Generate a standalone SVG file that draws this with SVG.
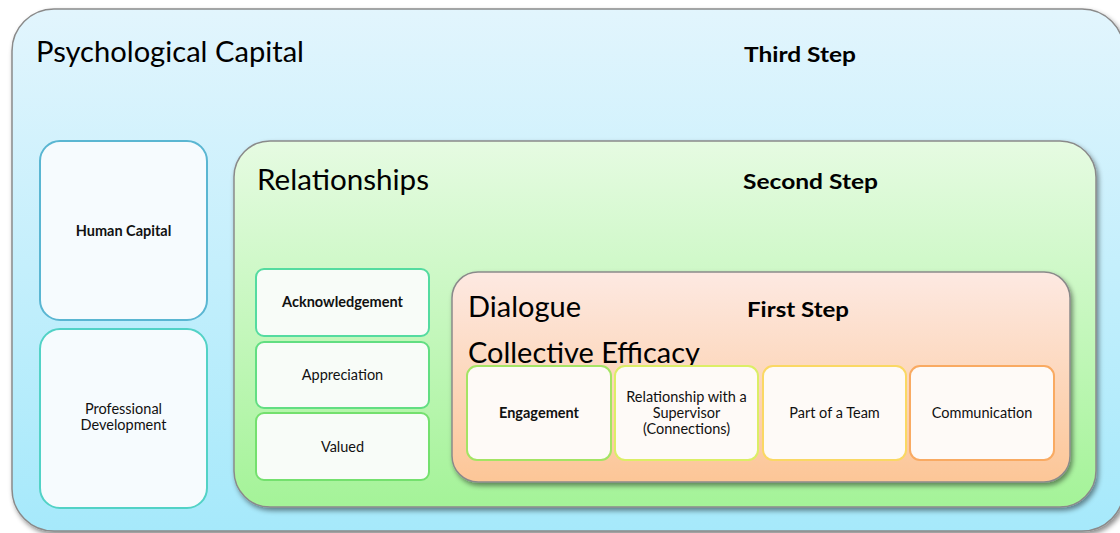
<svg xmlns="http://www.w3.org/2000/svg" width="1120" height="533" viewBox="0 0 1120 533">
<defs>
<linearGradient id="gBlue" x1="0" y1="0" x2="0" y2="1"><stop offset="0" stop-color="#e2f5fd"/><stop offset="1" stop-color="#a6e9fb"/></linearGradient>
<linearGradient id="gGreen" x1="0" y1="0" x2="0" y2="1"><stop offset="0" stop-color="#e6fbe2"/><stop offset="1" stop-color="#a4f398"/></linearGradient>
<linearGradient id="gOrange" x1="0" y1="0" x2="0" y2="1"><stop offset="0" stop-color="#fde9e2"/><stop offset="1" stop-color="#fcc697"/></linearGradient>
<filter id="sh" x="-5%" y="-5%" width="110%" height="115%"><feDropShadow dx="2" dy="3" stdDeviation="2.5" flood-color="#000" flood-opacity="0.45"/></filter>
<style>
.big{font-family:Lato,"Liberation Sans",sans-serif;font-size:28px;fill:#000}
.step{font-family:Lato,"Liberation Sans",sans-serif;font-size:21px;font-weight:bold;fill:#000}
.sm{font-family:Lato,"Liberation Sans",sans-serif;font-size:14.5px;fill:#111;text-anchor:middle}
.b{font-weight:bold}
.card{stroke-width:2}
</style>
</defs>
<g id="psychological-capital">
<rect x="12" y="9" width="1112" height="522" rx="42" fill="url(#gBlue)" stroke="#8a8a8a" stroke-width="1.5" filter="url(#sh)"/>
<text class="big" x="36" y="62" textLength="268" lengthAdjust="spacingAndGlyphs">Psychological Capital</text>
<text class="step" x="744" y="62" textLength="112" lengthAdjust="spacingAndGlyphs">Third Step</text>
</g>
<g id="human-capital">
<rect class="card" x="40" y="141" width="167" height="179" rx="20" fill="#f6fbfe" stroke="#5ab6d2"/>
<text class="sm b" x="123.5" y="236">Human Capital</text>
</g>
<g id="professional-development">
<rect class="card" x="40" y="329" width="167" height="179" rx="20" fill="#f6fbfe" stroke="#52d2c6"/>
<text class="sm" x="123.5" y="414">Professional</text>
<text class="sm" x="123.5" y="430">Development</text>
</g>
<g id="relationships">
<rect x="234" y="141" width="862" height="366" rx="36" fill="url(#gGreen)" stroke="#8a8a8a" stroke-width="1.5" filter="url(#sh)"/>
<text class="big" x="257" y="190" textLength="172" lengthAdjust="spacingAndGlyphs">Relationships</text>
<text class="step" x="743" y="189" textLength="135" lengthAdjust="spacingAndGlyphs">Second Step</text>
</g>
<g id="acknowledgement">
<rect class="card" x="256" y="269" width="173" height="67" rx="8" fill="#f8fcf8" stroke="#54dba0"/>
<text class="sm b" x="342.5" y="307">Acknowledgement</text>
</g>
<g id="appreciation">
<rect class="card" x="256" y="342" width="173" height="66" rx="8" fill="#f8fcf8" stroke="#62de82"/>
<text class="sm" x="342.5" y="380">Appreciation</text>
</g>
<g id="valued">
<rect class="card" x="256" y="413" width="173" height="67" rx="8" fill="#f8fcf8" stroke="#74e06e"/>
<text class="sm" x="342.5" y="452">Valued</text>
</g>
<g id="dialogue">
<rect x="452" y="272" width="618" height="210" rx="26" fill="url(#gOrange)" stroke="#8a8a8a" stroke-width="1.5" filter="url(#sh)"/>
<text class="big" x="468" y="317" textLength="113" lengthAdjust="spacingAndGlyphs">Dialogue</text>
<text class="step" x="747" y="317" textLength="102" lengthAdjust="spacingAndGlyphs">First Step</text>
<text class="big" x="468" y="363" textLength="232" lengthAdjust="spacingAndGlyphs">Collective Efficacy</text>
</g>
<g id="engagement">
<rect class="card" x="467" y="366" width="144" height="94" rx="10" fill="#fefaf7" stroke="#a4e464"/>
<text class="sm b" x="539" y="418">Engagement</text>
</g>
<g id="relationship-supervisor">
<rect class="card" x="615" y="366" width="143" height="94" rx="10" fill="#fefaf7" stroke="#dcee66"/>
<text class="sm" x="686.5" y="402">Relationship with a</text>
<text class="sm" x="686.5" y="418">Supervisor</text>
<text class="sm" x="686.5" y="434">(Connections)</text>
</g>
<g id="part-of-team">
<rect class="card" x="763" y="366" width="143" height="94" rx="10" fill="#fefaf7" stroke="#fad864"/>
<text class="sm" x="834.5" y="418">Part of a Team</text>
</g>
<g id="communication">
<rect class="card" x="910" y="366" width="144" height="94" rx="10" fill="#fefaf7" stroke="#f9aa62"/>
<text class="sm" x="982" y="418">Communication</text>
</g>
<g id="connectors"></g>
</svg>
